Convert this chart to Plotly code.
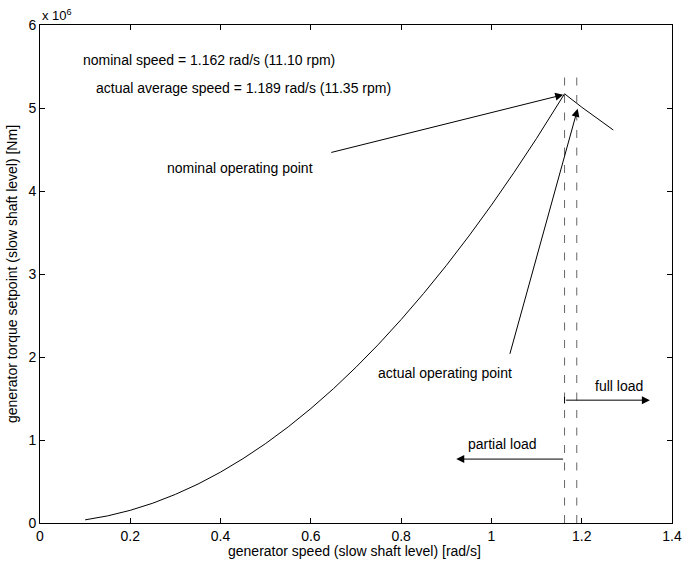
import plotly.graph_objects as go

# Torque-speed setpoint curve (slow shaft), torque in Nm
speed = [0.10, 0.15, 0.20, 0.25, 0.30, 0.35, 0.40, 0.45, 0.50, 0.55, 0.60,
         0.65, 0.70, 0.75, 0.80, 0.85, 0.90, 0.95, 1.00, 1.05, 1.10, 1.162,
         1.20, 1.235, 1.27]
torque = [0.038e6, 0.086e6, 0.153e6, 0.239e6, 0.345e6, 0.469e6, 0.613e6,
          0.776e6, 0.958e6, 1.159e6, 1.379e6, 1.618e6, 1.877e6, 2.154e6,
          2.451e6, 2.767e6, 3.102e6, 3.457e6, 3.830e6, 4.223e6, 4.634e6,
          5.171e6, 5.010e6, 4.870e6, 4.735e6]

nominal_speed = 1.162
actual_speed = 1.189
marker_top = 5.42e6

x_ticks = [0, 0.2, 0.4, 0.6, 0.8, 1.0, 1.2, 1.4]
x_ticktext = ["0", "0.2", "0.4", "0.6", "0.8", "1", "1.2", "1.4"]
y_ticks = [0, 1e6, 2e6, 3e6, 4e6, 5e6, 6e6]
y_ticktext = ["0", "1", "2", "3", "4", "5", "6"]

FONT = "Liberation Sans, Arial, Helvetica, sans-serif"
FS = 14

fig = go.Figure()

fig.add_trace(go.Scatter(x=speed, y=torque, mode="lines",
                         line=dict(color="black", width=1),
                         hoverinfo="skip", showlegend=False))

for s in (nominal_speed, actual_speed):
    fig.add_trace(go.Scatter(x=[s, s], y=[0, marker_top], mode="lines",
                             line=dict(color="#666666", width=1, dash="8px,9.5px"),
                             hoverinfo="skip", showlegend=False))

txt = dict(showarrow=False, xanchor="left", yanchor="middle",
           font=dict(family=FONT, size=FS, color="black"))
labels = [
    (0.091, 5.578e6, "nominal speed = 1.162 rad/s (11.10 rpm)"),
    (0.120, 5.24e6, "actual average speed = 1.189 rad/s (11.35 rpm)"),
    (0.276, 4.277e6, "nominal operating point"),
    (0.745, 1.807e6, "actual operating point"),
    (1.225, 1.65e6, "full load"),
    (0.943, 0.952e6, "partial load"),
]
for lx, ly, t in labels:
    fig.add_annotation(x=lx, y=ly, text=t, **txt)

arr = dict(text="", showarrow=True, axref="x", ayref="y", arrowhead=2,
           arrowsize=1.6, arrowwidth=1, arrowcolor="black", standoff=0,
           startstandoff=0)
arrows = [
    (1.159, 5.16e6, 0.642, 4.46e6),
    (1.191, 4.99e6, 1.04, 2.02e6),
    (1.351, 1.48e6, nominal_speed, 1.48e6),
    (0.922, 0.77e6, nominal_speed, 0.77e6),
]
for hx, hy, tx, ty in arrows:
    fig.add_annotation(x=hx, y=hy, ax=tx, ay=ty, **arr)

# small bar at the start of the full-load arrow
fig.add_shape(type="line", x0=nominal_speed, x1=nominal_speed,
              y0=1.44e6, y1=1.52e6, line=dict(color="black", width=1))

# exponent label and axis titles
fig.add_annotation(x=0, y=1, xref="paper", yref="paper", xanchor="left",
                   yanchor="bottom", yshift=0, showarrow=False,
                   text="x 10<sup>6</sup>",
                   font=dict(family=FONT, size=13, color="black"))
fig.add_annotation(x=0.498, y=-0.0562, xref="paper", yref="paper",
                   xanchor="center", yanchor="middle", showarrow=False,
                   text="generator speed (slow shaft level) [rad/s]",
                   font=dict(family=FONT, size=FS, color="black"))
fig.add_annotation(x=-0.0443, y=0.5, xref="paper", yref="paper",
                   xanchor="center", yanchor="middle", showarrow=False,
                   textangle=-90,
                   text="generator torque setpoint (slow shaft level) [Nm]",
                   font=dict(family=FONT, size=FS, color="black"))

axis_common = dict(showline=True, linecolor="black", linewidth=1,
                   mirror="ticks", ticks="inside", ticklen=5, tickwidth=1,
                   tickcolor="black", showgrid=False, zeroline=False,
                   automargin=False,
                   tickfont=dict(family=FONT, size=FS, color="black"))

fig.update_xaxes(range=[0, 1.4], tickvals=x_ticks, ticktext=x_ticktext,
                 **axis_common)
fig.update_yaxes(range=[0, 6e6], tickvals=y_ticks, ticktext=y_ticktext,
                 **axis_common)

fig.update_layout(width=682, height=570,
                  margin=dict(l=40, r=10, t=25, b=47),
                  paper_bgcolor="white", plot_bgcolor="white",
                  showlegend=False)

fig.write_html("out.html")
